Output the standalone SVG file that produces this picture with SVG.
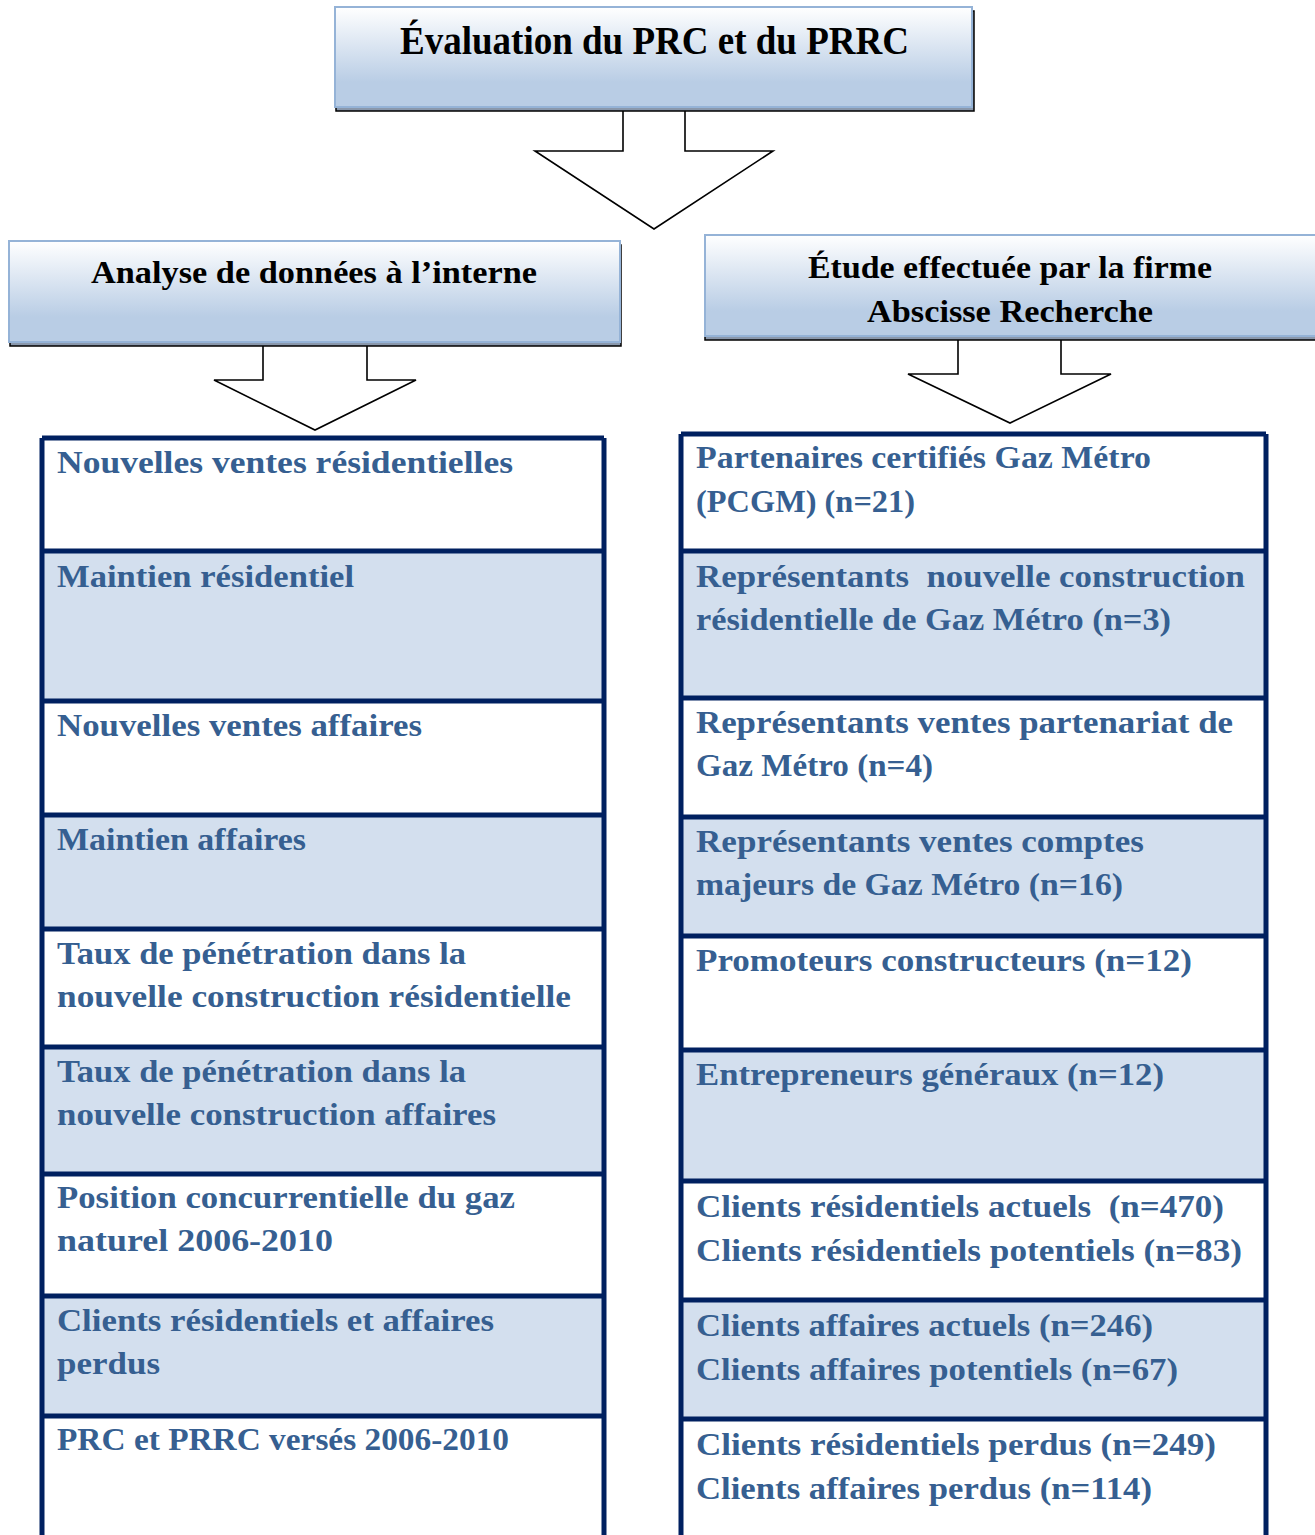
<svg xmlns="http://www.w3.org/2000/svg" width="1315" height="1535" viewBox="0 0 1315 1535">
<defs>
<linearGradient id="hg" x1="0" y1="0" x2="0" y2="1">
<stop offset="0" stop-color="#FFFFFF"/>
<stop offset="0.75" stop-color="#B9CDE5"/>
<stop offset="1" stop-color="#B9CDE5"/>
</linearGradient>
</defs>
<style>
.hdr{fill:url(#hg);stroke:#95B3D7;stroke-width:2}
.shd{fill:#8A98AC;stroke:#000;stroke-width:1.5}
.ht{font-family:"Liberation Serif",serif;font-weight:bold;fill:#000;text-anchor:start}
.arrow{fill:#fff;stroke:#000;stroke-width:1.6;stroke-linejoin:miter}
.w{fill:#fff}
.b{fill:#D3DFEE}
.grid{fill:none;stroke:#002060;stroke-width:5}
.t{font-family:"Liberation Serif",serif;font-weight:bold;font-size:32px;fill:#365F91}
</style>
<rect width="1315" height="1535" fill="#fff"/>
<g id="connectors">
<polygon class="arrow" points="623,100 623,151 535,151 654,229 773,151 685,151 685,100"/>
<polygon class="arrow" points="263,336 263,380 214,380 315,430 416,380 367,380 367,336"/>
<polygon class="arrow" points="958,330 958,374 908,374 1010,423 1111,374 1061,374 1061,330"/>
</g>
<g id="node-top">
<rect class="shd" x="336" y="11" width="638" height="100"/>
<rect class="hdr" x="335" y="7" width="637" height="100"/>
<text class="ht" x="400" y="54" font-size="40" textLength="509" lengthAdjust="spacingAndGlyphs">Évaluation du PRC et du PRRC</text>
</g>
<g id="node-left-header">
<rect class="shd" x="10" y="245" width="611" height="101"/>
<rect class="hdr" x="9" y="241" width="611" height="101"/>
<text class="ht" x="91" y="283" font-size="32" textLength="446" lengthAdjust="spacingAndGlyphs">Analyse de données à l’interne</text>
</g>
<g id="node-right-header">
<rect class="shd" x="705" y="239" width="615" height="101"/>
<rect class="hdr" x="705" y="235" width="615" height="101"/>
<text class="ht" x="808" y="278" font-size="32" textLength="404" lengthAdjust="spacingAndGlyphs">Étude effectuée par la firme</text>
<text class="ht" x="867" y="322" font-size="32" textLength="286" lengthAdjust="spacingAndGlyphs">Abscisse Recherche</text>
</g>
<g id="table-left">
<g id="l1"><rect class="w" x="42" y="438" width="562" height="113"/>
<text class="t" x="57" y="473" textLength="456" lengthAdjust="spacingAndGlyphs">Nouvelles ventes résidentielles</text></g>
<g id="l2"><rect class="b" x="42" y="551" width="562" height="150"/>
<text class="t" x="57" y="587" textLength="297" lengthAdjust="spacingAndGlyphs">Maintien résidentiel</text></g>
<g id="l3"><rect class="w" x="42" y="701" width="562" height="114"/>
<text class="t" x="57" y="736" textLength="365" lengthAdjust="spacingAndGlyphs">Nouvelles ventes affaires</text></g>
<g id="l4"><rect class="b" x="42" y="815" width="562" height="114"/>
<text class="t" x="57" y="850" textLength="249" lengthAdjust="spacingAndGlyphs">Maintien affaires</text></g>
<g id="l5"><rect class="w" x="42" y="929" width="562" height="118"/>
<text class="t" x="57" y="964" textLength="409" lengthAdjust="spacingAndGlyphs">Taux de pénétration dans la</text>
<text class="t" x="57" y="1007" textLength="514" lengthAdjust="spacingAndGlyphs">nouvelle construction résidentielle</text></g>
<g id="l6"><rect class="b" x="42" y="1047" width="562" height="127"/>
<text class="t" x="57" y="1082" textLength="409" lengthAdjust="spacingAndGlyphs">Taux de pénétration dans la</text>
<text class="t" x="57" y="1125" textLength="439" lengthAdjust="spacingAndGlyphs">nouvelle construction affaires</text></g>
<g id="l7"><rect class="w" x="42" y="1174" width="562" height="122"/>
<text class="t" x="57" y="1208" textLength="458" lengthAdjust="spacingAndGlyphs">Position concurrentielle du gaz</text>
<text class="t" x="57" y="1251" textLength="276" lengthAdjust="spacingAndGlyphs">naturel 2006-2010</text></g>
<g id="l8"><rect class="b" x="42" y="1296" width="562" height="120"/>
<text class="t" x="57" y="1331" textLength="437" lengthAdjust="spacingAndGlyphs">Clients résidentiels et affaires</text>
<text class="t" x="57" y="1374" textLength="103" lengthAdjust="spacingAndGlyphs">perdus</text></g>
<g id="l9"><rect class="w" x="42" y="1416" width="562" height="130"/>
<text class="t" x="57" y="1450" textLength="452" lengthAdjust="spacingAndGlyphs">PRC et PRRC versés 2006-2010</text></g>
<path class="grid" d="M42,438 H604 M42,438 V1545 M604,438 V1545 M42,551 H604 M42,701 H604 M42,815 H604 M42,929 H604 M42,1047 H604 M42,1174 H604 M42,1296 H604 M42,1416 H604"/>
</g>
<g id="table-right">
<g id="r1"><rect class="w" x="681" y="434" width="585" height="117"/>
<text class="t" x="696" y="468" textLength="455" lengthAdjust="spacingAndGlyphs">Partenaires certifiés Gaz Métro</text>
<text class="t" x="696" y="512" textLength="219" lengthAdjust="spacingAndGlyphs">(PCGM) (n=21)</text></g>
<g id="r2"><rect class="b" x="681" y="551" width="585" height="147"/>
<text class="t" x="696" y="587" textLength="549" lengthAdjust="spacingAndGlyphs" xml:space="preserve">Représentants  nouvelle construction</text>
<text class="t" x="696" y="630" textLength="475" lengthAdjust="spacingAndGlyphs">résidentielle de Gaz Métro (n=3)</text></g>
<g id="r3"><rect class="w" x="681" y="698" width="585" height="119"/>
<text class="t" x="696" y="733" textLength="537" lengthAdjust="spacingAndGlyphs">Représentants ventes partenariat de</text>
<text class="t" x="696" y="776" textLength="237" lengthAdjust="spacingAndGlyphs">Gaz Métro (n=4)</text></g>
<g id="r4"><rect class="b" x="681" y="817" width="585" height="119"/>
<text class="t" x="696" y="852" textLength="448" lengthAdjust="spacingAndGlyphs">Représentants ventes comptes</text>
<text class="t" x="696" y="895" textLength="427" lengthAdjust="spacingAndGlyphs">majeurs de Gaz Métro (n=16)</text></g>
<g id="r5"><rect class="w" x="681" y="936" width="585" height="114"/>
<text class="t" x="696" y="971" textLength="496" lengthAdjust="spacingAndGlyphs">Promoteurs constructeurs (n=12)</text></g>
<g id="r6"><rect class="b" x="681" y="1050" width="585" height="131"/>
<text class="t" x="696" y="1085" textLength="468" lengthAdjust="spacingAndGlyphs">Entrepreneurs généraux (n=12)</text></g>
<g id="r7"><rect class="w" x="681" y="1181" width="585" height="119"/>
<text class="t" x="696" y="1217" textLength="528" lengthAdjust="spacingAndGlyphs" xml:space="preserve">Clients résidentiels actuels  (n=470)</text>
<text class="t" x="696" y="1261" textLength="546" lengthAdjust="spacingAndGlyphs">Clients résidentiels potentiels (n=83)</text></g>
<g id="r8"><rect class="b" x="681" y="1300" width="585" height="119"/>
<text class="t" x="696" y="1336" textLength="457" lengthAdjust="spacingAndGlyphs">Clients affaires actuels (n=246)</text>
<text class="t" x="696" y="1380" textLength="482" lengthAdjust="spacingAndGlyphs">Clients affaires potentiels (n=67)</text></g>
<g id="r9"><rect class="w" x="681" y="1419" width="585" height="127"/>
<text class="t" x="696" y="1455" textLength="520" lengthAdjust="spacingAndGlyphs">Clients résidentiels perdus (n=249)</text>
<text class="t" x="696" y="1499" textLength="456" lengthAdjust="spacingAndGlyphs">Clients affaires perdus (n=114)</text></g>
<path class="grid" d="M681,434 H1266 M681,434 V1545 M1266,434 V1545 M681,551 H1266 M681,698 H1266 M681,817 H1266 M681,936 H1266 M681,1050 H1266 M681,1181 H1266 M681,1300 H1266 M681,1419 H1266"/>
</g>
</svg>
